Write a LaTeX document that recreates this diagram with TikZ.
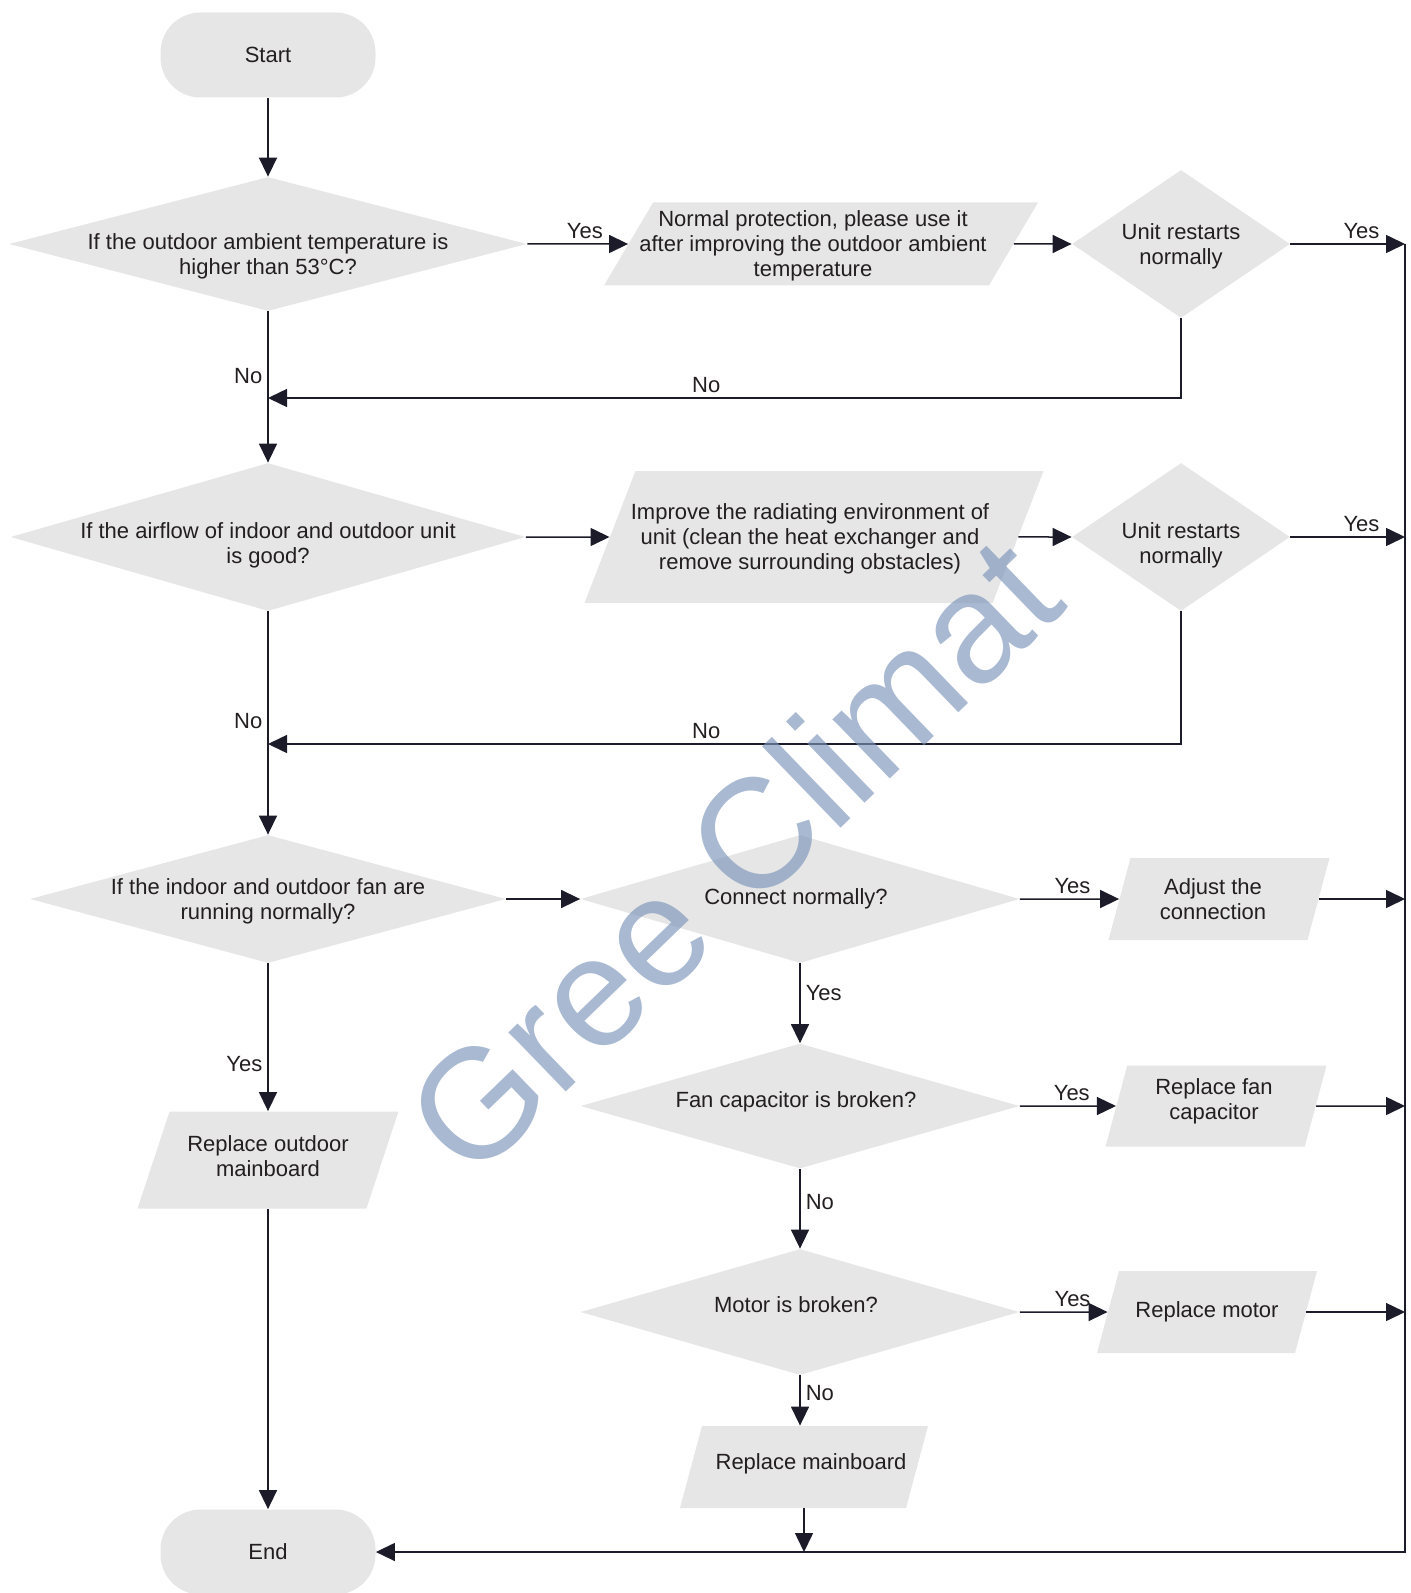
\documentclass[tikz,border=0pt]{standalone}
\usepackage{fontspec}
\setmainfont{Liberation Sans}
\usepackage{tikz}
\usetikzlibrary{shapes.geometric, arrows.meta, positioning}

\definecolor{boxgray}{HTML}{E6E6E7}
\definecolor{inkline}{HTML}{1C1B29}
\definecolor{inktext}{HTML}{231F20}
\definecolor{markblue}{RGB}{122,148,184}

\begin{document}
\begin{tikzpicture}[
    x=0.5pt, y=-0.5pt,
    font=\fontsize{11}{12.4}\selectfont,
    term/.style={
      rectangle, rounded corners=20pt,
      fill=boxgray, text=inktext,
      minimum width=107.5pt, minimum height=42.5pt
    },
    dec/.style={
      diamond, fill=boxgray, inner sep=0pt
    },
    io/.style={
      trapezium, trapezium stretches body,
      fill=boxgray, inner sep=0pt, text depth=0pt
    },
    dtxt/.style={
      align=center, text=inktext, inner sep=0pt,
      text height=, text depth=
    },
    lbl/.style={text=inktext, inner sep=2.5pt},
    wmark/.style={
      text=markblue, opacity=0.65,
      font=\fontsize{78}{80}\selectfont
    },
    arr/.style={-{Triangle[length=9.5pt, width=9pt]}, line width=0.75pt, color=inkline}
  ]
    \useasboundingbox (0,0) rectangle (1410,1593);

    \node[term] (start) at (268,55) {Start};

    \node[dec, minimum width=259pt, minimum height=67pt,
      label={[dtxt, yshift=-6pt]center:If the outdoor ambient temperature is\\higher than 53°C?}] (d1) at (268,244) {};
    \node[io, trapezium left angle=59.4, trapezium right angle=120.6,
      minimum width=217pt, text height=41.5pt,
      label={[dtxt, xshift=-4pt, yshift=-1pt]center:Normal protection, please use it\\after improving the outdoor ambient\\temperature}] (p1) at (821,244) {};
    \node[dec, minimum width=109pt, minimum height=74pt,
      label={[dtxt, yshift=-1pt]center:Unit restarts\\normally}] (d1b) at (1181,244) {};

    \node[dec, minimum width=257.5pt, minimum height=74pt,
      label={[dtxt, yshift=-4pt]center:If the airflow of indoor and outdoor unit\\is good?}] (d2) at (268,537) {};
    \node[io, trapezium left angle=68.9, trapezium right angle=111.1,
      minimum width=229.5pt, text height=66pt,
      label={[dtxt, xshift=-2pt, yshift=-1pt]center:Improve the radiating environment of\\unit (clean the heat exchanger and\\remove surrounding obstacles)}] (p2) at (814,537) {};
    \node[dec, minimum width=109pt, minimum height=74pt,
      label={[dtxt, yshift=-4pt]center:Unit restarts\\normally}] (d2b) at (1181,537) {};

    \node[dec, minimum width=238pt, minimum height=64pt,
      label={[dtxt, yshift=-1pt]center:If the indoor and outdoor fan are\\running normally?}] (d3) at (268,899) {};
    \node[dec, minimum width=219.5pt, minimum height=64pt,
      label={[dtxt, xshift=-2pt]center:Connect normally?}] (d4) at (800,899) {};
    \node[io, trapezium left angle=75, trapezium right angle=105,
      minimum width=110.5pt, text height=41pt,
      label={[dtxt, xshift=-3pt]center:Adjust the\\connection}] (p3) at (1219,899) {};

    \node[dec, minimum width=219.5pt, minimum height=62.5pt,
      label={[dtxt, xshift=-2pt, yshift=2pt]center:Fan capacitor is broken?}] (d5) at (800,1106) {};
    \node[io, trapezium left angle=75, trapezium right angle=105,
      minimum width=110.5pt, text height=40.5pt,
      label={[dtxt, xshift=-1pt, yshift=2.5pt]center:Replace fan\\capacitor}] (p5) at (1216,1106) {};
    \node[io, trapezium left angle=71.7, trapezium right angle=108.3,
      minimum width=130.5pt, text height=48.5pt,
      label={[dtxt, yshift=2pt]center:Replace outdoor\\mainboard}] (p4) at (268,1160) {};

    \node[dec, minimum width=219.5pt, minimum height=63pt,
      label={[dtxt, xshift=-2pt, yshift=3.5pt]center:Motor is broken?}] (d6) at (800,1312) {};
    \node[io, trapezium left angle=75, trapezium right angle=105,
      minimum width=110pt, text height=41pt,
      label={[dtxt]center:Replace motor}] (p6) at (1207,1312) {};
    \node[io, trapezium left angle=75, trapezium right angle=105,
      minimum width=124pt, text height=41pt,
      label={[dtxt, xshift=3.5pt, yshift=1.5pt]center:Replace mainboard}] (p7) at (804,1467) {};

    \node[term] (end) at (268,1552) {End};

    \coordinate (r1) at (1405,244);
    \coordinate (r2) at (1405,537);
    \coordinate (j1) at (268,398);
    \coordinate (j2) at (268,744);

    \draw[arr] (start) -- (d1);
    \draw[arr] (d1)    -- node[lbl, above, pos=.57] {Yes} (p1);
    \draw[arr] (p1)    -- (d1b);
    \draw[arr] (d1b)   -- node[lbl, above, pos=.62] {Yes} (r1);
    \draw[arr] (d1b)   |- node[lbl, above, pos=.76] {No} (j1);
    \draw[arr] (d1)    -- node[lbl, left, pos=.43] {No} (d2);

    \draw[arr] (d2)    -- (p2);
    \draw[arr] (p2)    -- (d2b);
    \draw[arr] (d2b)   -- node[lbl, above, pos=.62] {Yes} (r2);
    \draw[arr] (d2b)   |- node[lbl, above, pos=.76] {No} (j2);
    \draw[arr] (d2)    -- node[lbl, left, pos=.49] {No} (d3);

    \draw[arr] (d3)    -- (d4);
    \draw[arr] (d4)    -- node[lbl, above, pos=.53] {Yes} (p3);
    \draw[arr] (p3)    -- (p3 -| r1);
    \draw[arr] (d4)    -- node[lbl, right, pos=.37] {Yes} (d5);
    \draw[arr] (d3)    -- node[lbl, left, pos=.68] {Yes} (p4);

    \draw[arr] (d5)    -- node[lbl, above, pos=.54] {Yes} (p5);
    \draw[arr] (p5)    -- (p5 -| r1);
    \draw[arr] (d5)    -- node[lbl, right, pos=.42] {No} (d6);

    \draw[arr] (d6)    -- node[lbl, above, pos=.6] {Yes} (p6);
    \draw[arr] (p6)    -- (p6 -| r1);
    \draw[arr] (d6.south) -- node[lbl, right, pos=.35] {No} (d6.south |- p7.north);
    \draw[arr] (p7.south) -- (p7.south |- end);

    \draw[arr] (p4)    -- (end);
    \draw[arr] (r1)    |- (end);

    \node[wmark, rotate=44] (wm) at (732,855) {Gree Climat};
\end{tikzpicture}
\end{document}
